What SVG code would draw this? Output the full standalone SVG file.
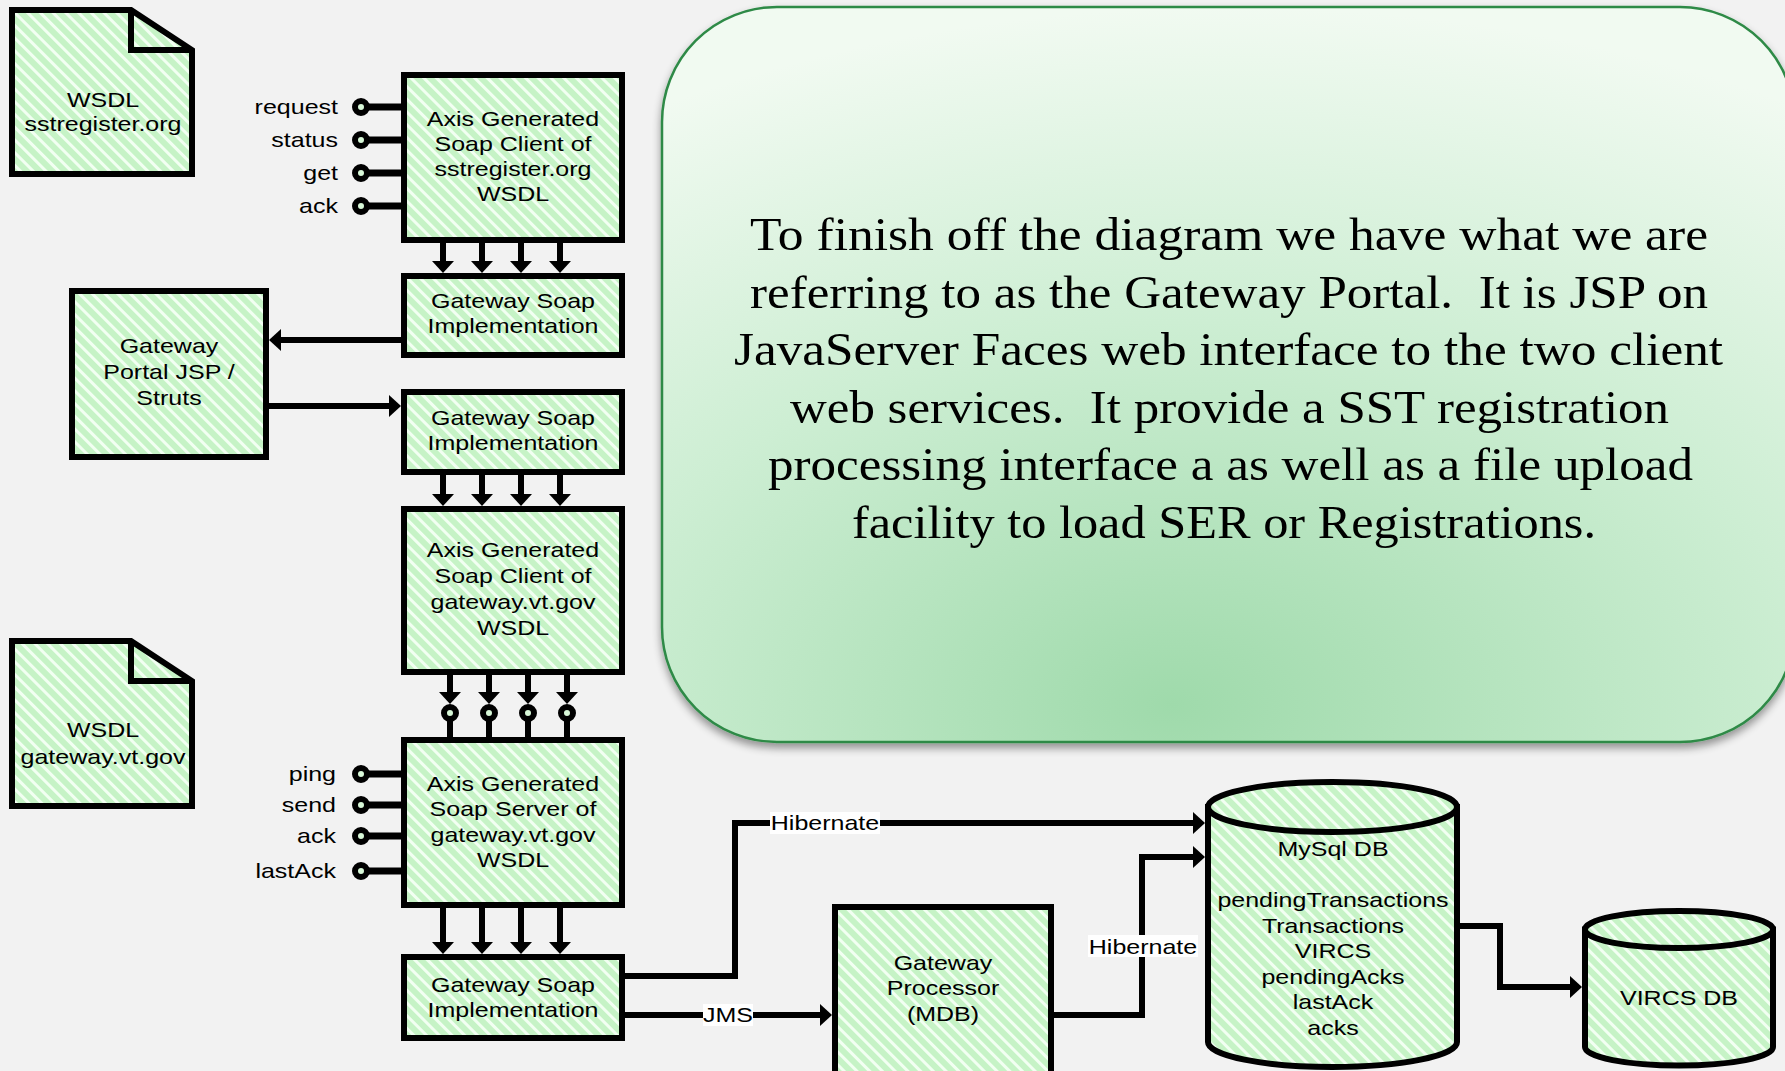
<svg xmlns="http://www.w3.org/2000/svg" width="1785" height="1071" viewBox="0 0 1785 1071">
<defs>
<pattern id="hatch" width="9" height="9" patternUnits="userSpaceOnUse" patternTransform="rotate(-45)">
<rect width="9" height="9" fill="#c6f3c6"/>
<rect width="3" height="9" fill="#f2fff2"/>
</pattern>
<radialGradient id="noteFill" cx="0.5" cy="1" r="1" fx="0.45" fy="0.95">
<stop offset="0" stop-color="#9fdaab"/>
<stop offset="0.55" stop-color="#cdeed3"/>
<stop offset="1" stop-color="#f1faf1"/>
</radialGradient>
<filter id="shadow" x="-5%" y="-5%" width="110%" height="115%">
<feGaussianBlur in="SourceAlpha" stdDeviation="4"/>
<feOffset dx="0" dy="5" result="b"/>
<feComponentTransfer><feFuncA type="linear" slope="0.4"/></feComponentTransfer>
<feMerge><feMergeNode/><feMergeNode in="SourceGraphic"/></feMerge>
</filter>
<marker id="ah" markerUnits="userSpaceOnUse" markerWidth="12" markerHeight="22" viewBox="0 0 12 22" refX="8" refY="11" orient="auto">
<path d="M0,0 L12,11 L0,22 Z" fill="#000"/>
</marker>
</defs>
<style>
.shape{fill:url(#hatch);stroke:#000;stroke-width:6;stroke-linejoin:miter}
.fold{fill:none;stroke:#000;stroke-width:6}
.t{font-family:"Liberation Sans",Arial,sans-serif;font-size:20.5px;fill:#000}
.m{text-anchor:middle}
.e{text-anchor:end}
.stub{stroke:#000;stroke-width:7;fill:none}
.port{fill:#d8f8d8;stroke:#000;stroke-width:6}
.c{stroke:#000;stroke-width:6;fill:none;stroke-linejoin:miter}
.ca{stroke:#000;stroke-width:6;fill:none;stroke-linejoin:miter;marker-end:url(#ah)}
.lbg{fill:#ffffff}
.p{font-family:"Liberation Serif","Times New Roman",serif;font-size:46px;fill:#000;white-space:pre}
</style>
<rect width="1785" height="1071" fill="#f2f2f2"/>

<g id="note">
<rect x="662" y="7" width="1133" height="735" rx="115" ry="115" fill="url(#noteFill)" stroke="#2e8a46" stroke-width="2.5" filter="url(#shadow)"/>
<text class="p" x="750" y="250" textLength="958" lengthAdjust="spacingAndGlyphs">To finish off the diagram we have what we are</text>
<text class="p" x="750" y="308" textLength="958" lengthAdjust="spacingAndGlyphs">referring to as the Gateway Portal.  It is JSP on</text>
<text class="p" x="734" y="365" textLength="989" lengthAdjust="spacingAndGlyphs">JavaServer Faces web interface to the two client</text>
<text class="p" x="790" y="423" textLength="879" lengthAdjust="spacingAndGlyphs">web services.  It provide a SST registration</text>
<text class="p" x="768" y="480" textLength="925" lengthAdjust="spacingAndGlyphs">processing interface a as well as a file upload</text>
<text class="p" x="852" y="538" textLength="744" lengthAdjust="spacingAndGlyphs">facility to load SER or Registrations.</text>
</g>

<g id="connectors">
<line class="ca" x1="443" y1="243" x2="443" y2="269"/>
<line class="ca" x1="482" y1="243" x2="482" y2="269"/>
<line class="ca" x1="521" y1="243" x2="521" y2="269"/>
<line class="ca" x1="560" y1="243" x2="560" y2="269"/>
<line class="ca" x1="401" y1="340" x2="273" y2="340"/>
<line class="ca" x1="269" y1="406" x2="397" y2="406"/>
<line class="ca" x1="443" y1="475" x2="443" y2="502"/>
<line class="ca" x1="482" y1="475" x2="482" y2="502"/>
<line class="ca" x1="521" y1="475" x2="521" y2="502"/>
<line class="ca" x1="560" y1="475" x2="560" y2="502"/>
<line class="ca" x1="450" y1="675" x2="450" y2="700"/>
<line class="ca" x1="489" y1="675" x2="489" y2="700"/>
<line class="ca" x1="528" y1="675" x2="528" y2="700"/>
<line class="ca" x1="567" y1="675" x2="567" y2="700"/>
<line class="c" x1="450" y1="719" x2="450" y2="738"/>
<line class="c" x1="489" y1="719" x2="489" y2="738"/>
<line class="c" x1="528" y1="719" x2="528" y2="738"/>
<line class="c" x1="567" y1="719" x2="567" y2="738"/>
<circle class="port" cx="450" cy="713" r="6"/>
<circle class="port" cx="489" cy="713" r="6"/>
<circle class="port" cx="528" cy="713" r="6"/>
<circle class="port" cx="567" cy="713" r="6"/>
<line class="ca" x1="443" y1="908" x2="443" y2="950"/>
<line class="ca" x1="482" y1="908" x2="482" y2="950"/>
<line class="ca" x1="521" y1="908" x2="521" y2="950"/>
<line class="ca" x1="560" y1="908" x2="560" y2="950"/>
<polyline class="ca" points="625,976 735,976 735,823 1201,823"/>
<rect class="lbg" x="770" y="812" width="110" height="22"/>
<text class="t m" transform="translate(825,830) scale(1.22,1)">Hibernate</text>
<line class="ca" x1="625" y1="1015" x2="828" y2="1015"/>
<rect class="lbg" x="703" y="1004" width="50" height="22"/>
<text class="t m" transform="translate(728,1022) scale(1.22,1)">JMS</text>
<polyline class="ca" points="1054,1015 1142,1015 1142,857 1201,857"/>
<rect class="lbg" x="1088" y="935" width="110" height="22"/>
<text class="t m" transform="translate(1143,954) scale(1.22,1)">Hibernate</text>
<polyline class="ca" points="1460,926 1500,926 1500,987 1578,987"/>
</g>

<g id="wsdl1">
<path class="shape" d="M12,10 H131 L192,50 V174 H12 Z"/>
<path class="fold" d="M131,10 V50 H192"/>
<text class="t m" transform="translate(103,107) scale(1.22,1)"><tspan x="0">WSDL</tspan><tspan x="0" dy="24">sstregister.org</tspan></text>
</g>

<g id="client1">
<line class="stub" x1="361" y1="107" x2="402" y2="107"/>
<line class="stub" x1="361" y1="140" x2="402" y2="140"/>
<line class="stub" x1="361" y1="173" x2="402" y2="173"/>
<line class="stub" x1="361" y1="206" x2="402" y2="206"/>
<circle class="port" cx="361" cy="107" r="6"/>
<circle class="port" cx="361" cy="140" r="6"/>
<circle class="port" cx="361" cy="173" r="6"/>
<circle class="port" cx="361" cy="206" r="6"/>
<text class="t e" transform="translate(338,114) scale(1.22,1)">request</text>
<text class="t e" transform="translate(338,147) scale(1.22,1)">status</text>
<text class="t e" transform="translate(338,180) scale(1.22,1)">get</text>
<text class="t e" transform="translate(338,213) scale(1.22,1)">ack</text>
<rect class="shape" x="404" y="75" width="218" height="165"/>
<text class="t m" transform="translate(513,126) scale(1.22,1)"><tspan x="0">Axis Generated</tspan><tspan x="0" dy="25">Soap Client of</tspan><tspan x="0" dy="25">sstregister.org</tspan><tspan x="0" dy="25">WSDL</tspan></text>
</g>

<g id="gsi1">
<rect class="shape" x="404" y="276" width="218" height="79"/>
<text class="t m" transform="translate(513,308) scale(1.22,1)"><tspan x="0">Gateway Soap</tspan><tspan x="0" dy="25">Implementation</tspan></text>
</g>

<g id="portal">
<rect class="shape" x="72" y="291" width="194" height="166"/>
<text class="t m" transform="translate(169,353) scale(1.22,1)"><tspan x="0">Gateway</tspan><tspan x="0" dy="26">Portal JSP /</tspan><tspan x="0" dy="26">Struts</tspan></text>
</g>

<g id="gsi2">
<rect class="shape" x="404" y="392" width="218" height="80"/>
<text class="t m" transform="translate(513,425) scale(1.22,1)"><tspan x="0">Gateway Soap</tspan><tspan x="0" dy="25">Implementation</tspan></text>
</g>

<g id="client2">
<rect class="shape" x="404" y="509" width="218" height="163"/>
<text class="t m" transform="translate(513,557) scale(1.22,1)"><tspan x="0">Axis Generated</tspan><tspan x="0" dy="26">Soap Client of</tspan><tspan x="0" dy="26">gateway.vt.gov</tspan><tspan x="0" dy="26">WSDL</tspan></text>
</g>

<g id="wsdl2">
<path class="shape" d="M12,641 H131 L192,681 V806 H12 Z"/>
<path class="fold" d="M131,641 V681 H192"/>
<text class="t m" transform="translate(103,737) scale(1.22,1)"><tspan x="0">WSDL</tspan><tspan x="0" dy="27">gateway.vt.gov</tspan></text>
</g>

<g id="server">
<line class="stub" x1="361" y1="774" x2="402" y2="774"/>
<line class="stub" x1="361" y1="805" x2="402" y2="805"/>
<line class="stub" x1="361" y1="836" x2="402" y2="836"/>
<line class="stub" x1="361" y1="871" x2="402" y2="871"/>
<circle class="port" cx="361" cy="774" r="6"/>
<circle class="port" cx="361" cy="805" r="6"/>
<circle class="port" cx="361" cy="836" r="6"/>
<circle class="port" cx="361" cy="871" r="6"/>
<text class="t e" transform="translate(336,781) scale(1.22,1)">ping</text>
<text class="t e" transform="translate(336,812) scale(1.22,1)">send</text>
<text class="t e" transform="translate(336,843) scale(1.22,1)">ack</text>
<text class="t e" transform="translate(336,878) scale(1.22,1)">lastAck</text>
<rect class="shape" x="404" y="740" width="218" height="165"/>
<text class="t m" transform="translate(513,791) scale(1.22,1)"><tspan x="0">Axis Generated</tspan><tspan x="0" dy="25.3">Soap Server of</tspan><tspan x="0" dy="25.3">gateway.vt.gov</tspan><tspan x="0" dy="25.3">WSDL</tspan></text>
</g>

<g id="gsi3">
<rect class="shape" x="404" y="957" width="218" height="81"/>
<text class="t m" transform="translate(513,992) scale(1.22,1)"><tspan x="0">Gateway Soap</tspan><tspan x="0" dy="25">Implementation</tspan></text>
</g>

<g id="processor">
<rect class="shape" x="835" y="907" width="216" height="200"/>
<text class="t m" transform="translate(943,970) scale(1.22,1)"><tspan x="0">Gateway</tspan><tspan x="0" dy="25.5">Processor</tspan><tspan x="0" dy="25.5">(MDB)</tspan></text>
</g>

<g id="mysql">
<path class="shape" d="M1208,807 V1042 A124.5,25 0 0 0 1457,1042 V807 Z"/>
<ellipse class="shape" cx="1332.5" cy="807" rx="124.5" ry="25"/>
<text class="t m" transform="translate(1333,856) scale(1.22,1)"><tspan x="0">MySql DB</tspan><tspan x="0" dy="51">pendingTransactions</tspan><tspan x="0" dy="25.6">Transactions</tspan><tspan x="0" dy="25.6">VIRCS</tspan><tspan x="0" dy="25.6">pendingAcks</tspan><tspan x="0" dy="25.6">lastAck</tspan><tspan x="0" dy="25.6">acks</tspan></text>
</g>

<g id="vircs">
<path class="shape" d="M1585,929.5 V1047 A94,18.5 0 0 0 1773,1047 V929.5 Z"/>
<ellipse class="shape" cx="1679" cy="929.5" rx="94" ry="18.5"/>
<text class="t m" transform="translate(1679,1005) scale(1.22,1)">VIRCS DB</text>
</g>
</svg>
